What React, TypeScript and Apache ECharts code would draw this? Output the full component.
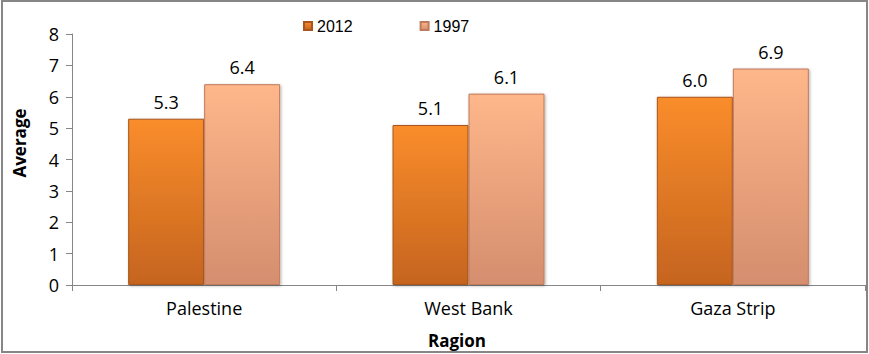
import React, { useEffect, useRef } from "react";
import * as echarts from "echarts";

const categories = ["Palestine", "West Bank", "Gaza Strip"];
const seriesNames = ["2012", "1997"];
const values2012 = [5.3, 5.1, 6.0];
const values1997 = [6.4, 6.1, 6.9];
const yTicks = { min: 0, max: 8, interval: 1 };

const FONT = "'Open Sans', 'Noto Sans', sans-serif";

export default function App() {
  const ref = useRef<HTMLDivElement>(null);
  useEffect(() => {
    if (!ref.current) return;
    const chart = echarts.init(ref.current, undefined, { renderer: "svg" });
    const grad = (top: string, bottom: string) =>
      new echarts.graphic.LinearGradient(0, 0, 0, 1, [
        { offset: 0, color: top },
        { offset: 1, color: bottom },
      ]);
    const label = {
      show: true,
      position: "top" as const,
      distance: 8,
      color: "#000",
      fontFamily: FONT,
      fontSize: 18,
      formatter: (p: any) => Number(p.value).toFixed(1),
    };
    chart.setOption({
      animation: false,
      backgroundColor: "#fff",
      textStyle: { fontFamily: FONT },
      grid: { left: 72, right: 4, top: 34, bottom: 68, containLabel: false },
      legend: {
        top: 13,
        left: 298,
        itemWidth: 8,
        itemHeight: 8,
        itemGap: 67,
        icon: "rect",
        textStyle: { fontFamily: "'Liberation Sans', Arial, sans-serif", fontSize: 16, color: "#000" },
        data: seriesNames,
      },
      xAxis: {
        type: "category",
        data: categories,
        name: "Ragion",
        nameLocation: "middle",
        nameGap: 47,
        nameTextStyle: { fontFamily: FONT, fontSize: 17, fontWeight: "bold", color: "#000", padding: [0, 23, 0, 0] },
        axisLine: { lineStyle: { color: "#868686", width: 1 } },
        axisTick: { show: true, length: 6, lineStyle: { color: "#868686" } },
        axisLabel: { color: "#000", fontFamily: FONT, fontSize: 18, margin: 14 },
      },
      yAxis: {
        type: "value",
        min: yTicks.min,
        max: yTicks.max,
        interval: yTicks.interval,
        axisLine: { show: true, lineStyle: { color: "#868686", width: 1 } },
        axisTick: { show: true, length: 6, lineStyle: { color: "#868686" } },
        splitLine: { show: false },
        axisLabel: { color: "#000", fontFamily: FONT, fontSize: 18, margin: 13 },
      },
      graphic: [
        {
          type: "rect",
          shape: { x: 2, y: 1, width: 865, height: 351 },
          style: { fill: "none", stroke: "#868686", lineWidth: 2 },
          silent: true,
          z: 100,
        },
        {
          type: "text",
          x: 19,
          y: 143,
          rotation: Math.PI / 2,
          style: {
            text: "Average",
            fontFamily: FONT,
            fontSize: 17,
            fontWeight: "bold",
            fill: "#000",
            align: "center",
            verticalAlign: "middle",
          },
        },
      ],
      series: [
        {
          name: seriesNames[0],
          type: "bar",
          data: values2012,
          barWidth: 76,
          barGap: "0%",
          itemStyle: {
            color: grad("#FA8D2B", "#C5641F"),
            borderColor: "#A8561C",
            borderWidth: 1,
            shadowBlur: 3,
            shadowColor: "rgba(0,0,0,0.3)",
            shadowOffsetX: 1,
            shadowOffsetY: 1,
          },
          label,
        },
        {
          name: seriesNames[1],
          type: "bar",
          data: values1997,
          barWidth: 76,
          barGap: "0%",
          itemStyle: {
            color: grad("#FEB68A", "#D58E6E"),
            borderColor: "#C07A5C",
            borderWidth: 1,
            shadowBlur: 3,
            shadowColor: "rgba(0,0,0,0.3)",
            shadowOffsetX: 1,
            shadowOffsetY: 1,
          },
          label,
        },
      ],
    });
    return () => chart.dispose();
  }, []);
  return (
    <div
      ref={ref}
      style={{ position: "absolute", left: 0, top: 0, width: 869, height: 354 }}
    />
  );
}
